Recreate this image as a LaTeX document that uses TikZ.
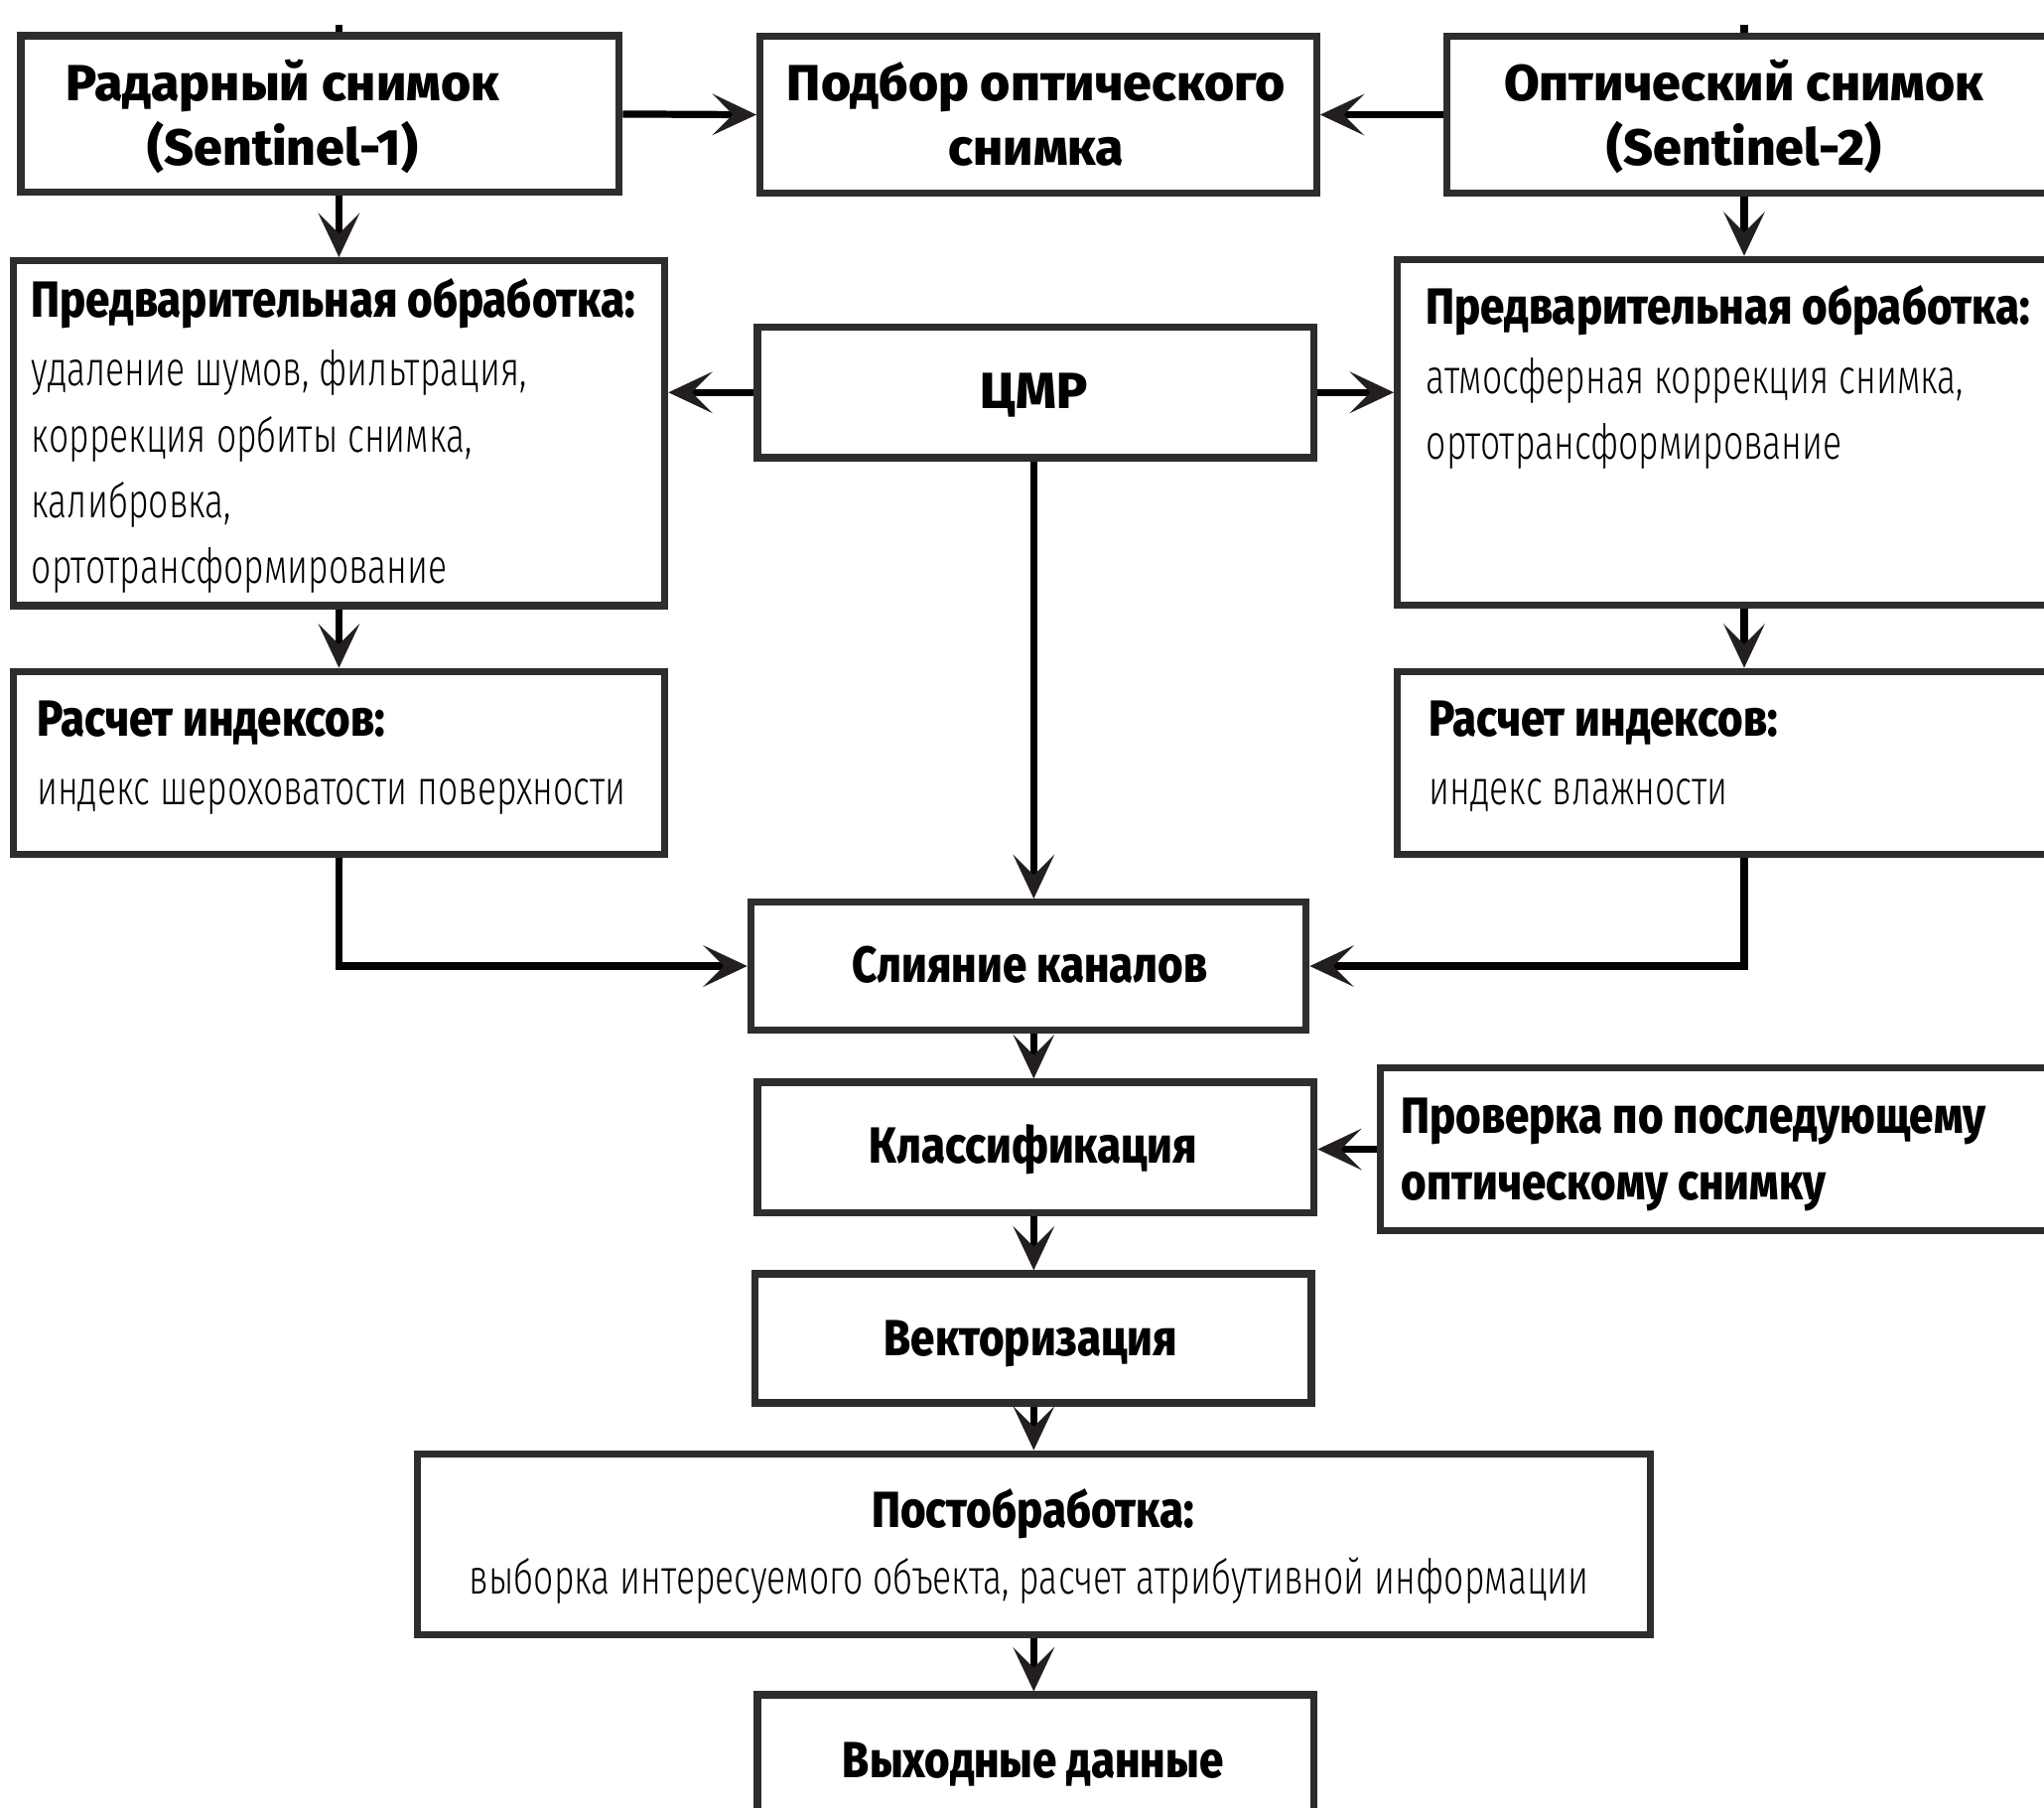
\documentclass[tikz,border=0pt]{standalone}
\usepackage{fontspec}
\setmainfont{Fira Sans}
\newfontfamily\fTitle{Fira Sans ExtraBold}[FakeStretch=1.01]
\newfontfamily\fCond{Fira Sans ExtraBold}[FakeStretch=0.855]
\newfontfamily\fLight{Fira Sans Light}[FakeStretch=0.73]
\usetikzlibrary{arrows.meta}
\definecolor{boxline}{HTML}{2D2D2D}
\definecolor{arr}{HTML}{231F20}
\begin{document}
\begin{tikzpicture}[x=1pt,y=-1pt,
  box/.style={draw=boxline, line width=5.5pt, rectangle, inner sep=0pt, fill=white},
  ttl/.style={inner sep=0pt, font=\fTitle\fontsize{39}{48}\selectfont},
  cnd/.style={inner sep=0pt, font=\fCond\fontsize{39}{48}\selectfont},
  lgt/.style={inner sep=0pt, font=\fLight\fontsize{37}{48}\selectfont},
  conn/.style={draw=black, line width=5.5pt,
    -{Stealth[length=34pt, width=32pt, inset=16pt, line width=0pt, color=arr]}},
  stub/.style={draw=black, line width=5.5pt}
]
\fill[white] (0,0) rectangle (1568,1386);
\useasboundingbox (0,0) rectangle (1568,1386);
\clip (0,0) rectangle (1568,1386);

\coordinate (rx) at (1338,0);
\coordinate (cx) at (793,0);

% boxes
\node[box, minimum width=459pt, minimum height=120pt] (box1) at (245.5,87.5) {};
\node[box, minimum width=427pt, minimum height=120pt] (box2) at (796.5,88) {};
\node[box, minimum width=500pt, minimum height=120pt] (box3) at (1360,88) {};
\node[box, minimum width=500pt, minimum height=264.5pt] (preL) at (260,332.25) {};
\node[box, minimum width=427pt, minimum height=100pt] (cmr) at (794.5,301) {};
\node[box, minimum width=538pt, minimum height=265pt] (preR) at (1341,331.5) {};
\node[box, minimum width=500pt, minimum height=140pt] (idxL) at (260,585) {};
\node[box, minimum width=538pt, minimum height=140pt] (idxR) at (1341,585) {};
\node[box, minimum width=426pt, minimum height=98pt] (merge) at (789,741) {};
\node[box, minimum width=427pt, minimum height=100pt] (klass) at (794.5,880) {};
\node[box, minimum width=551pt, minimum height=125pt] (prov) at (1334.5,881.5) {};
\node[box, minimum width=427pt, minimum height=99pt] (vect) at (792.5,1026.5) {};
\node[box, minimum width=946pt, minimum height=139pt] (post) at (793,1184.5) {};
\node[box, minimum width=427pt, minimum height=100pt] (out) at (794.5,1350) {};

% texts
\node[ttl, anchor=base] (t1a) at (217,77) {Радарный снимок};
\node[ttl, anchor=base] (t1b) at (217,127) {(Sentinel-1)};
\node[ttl, anchor=base] (t2a) at (795,77) {Подбор оптического};
\node[ttl, anchor=base] (t2b) at (795,127) {снимка};
\node[ttl, anchor=base] (t3a) at (1338,77) {Оптический снимок};
\node[ttl, anchor=base] (t3b) at (1338,127) {(Sentinel-2)};

\node[cnd, anchor=base west] (tpl0) at (24,243) {Предварительная обработка:};
\node[lgt, anchor=base west] (tpl1) at (24,296) {удаление шумов, фильтрация,};
\node[lgt, anchor=base west] (tpl2) at (24,346.5) {коррекция орбиты снимка,};
\node[lgt, anchor=base west] (tpl3) at (24,397) {калибровка,};
\node[lgt, anchor=base west] (tpl4) at (24,447.5) {ортотрансформирование};

\node[ttl, anchor=base] (tcmr) at (793,313.5) {ЦМР};

\node[cnd, anchor=base west] (tpr0) at (1094,249) {Предварительная обработка:};
\node[lgt, anchor=base west] (tpr1) at (1094,302) {атмосферная коррекция снимка,};
\node[lgt, anchor=base west] (tpr2) at (1094,352.5) {ортотрансформирование};

\node[cnd, anchor=base west] (til0) at (28,565) {Расчет индексов:};
\node[lgt, anchor=base west] (til1) at (28,617) {индекс шероховатости поверхности};
\node[cnd, anchor=base west] (tir0) at (1096,565) {Расчет индексов:};
\node[lgt, anchor=base west] (tir1) at (1096,617) {индекс влажности};

\node[cnd, anchor=base] (tmerge) at (790,753.5) {Слияние каналов};
\node[cnd, anchor=base] (tklass) at (792.5,892.5) {Классификация};
\node[cnd, anchor=base west] (tprov0) at (1075,869.5) {Проверка по последующему};
\node[cnd, anchor=base west] (tprov1) at (1075,920.5) {оптическому снимку};
\node[cnd, anchor=base] (tvect) at (790.5,1039.5) {Векторизация};
\node[cnd, anchor=base] (tpost0) at (792.5,1171.5) {Постобработка:};
\node[lgt, anchor=base] (tpost1) at (789.5,1223) {выборка интересуемого объекта, расчет атрибутивной информации};
\node[cnd, anchor=base] (tout) at (792.5,1363.5) {Выходные данные};

% stubs above the top boxes
\draw[stub] (box1.north -| preL.north) -- ++(0,-6);
\draw[stub] (box3.north -| rx) -- ++(0,-6);

% connectors
\draw[conn] (box1.east) -- (box2.west);
\draw[conn] (box3.west) -- (box2.east);
\draw[conn] (preL.north |- box1.south) -- (preL.north);
\draw[conn] (box3.south -| rx) -- (preR.north -| rx);
\draw[conn] (cmr.west) -- (preL.east |- cmr.west);
\draw[conn] (cmr.east) -- (preR.west |- cmr.east);
\draw[conn] (cmr.south -| cx) -- (merge.north -| cx);
\draw[conn] (preL.south) -- (idxL.north);
\draw[conn] (preR.south -| rx) -- (idxR.north -| rx);
\draw[conn] (idxL.south) |- (merge.west);
\draw[conn] (idxR.south -| rx) |- (merge.east);
\draw[conn] (merge.south -| cx) -- (klass.north -| cx);
\draw[conn] (prov.west) -- (klass.east |- prov.west);
\draw[conn] (klass.south -| cx) -- (vect.north -| cx);
\draw[conn] (vect.south -| cx) -- (post.north -| cx);
\draw[conn] (post.south -| cx) -- (out.north -| cx);
\end{tikzpicture}
\end{document}
